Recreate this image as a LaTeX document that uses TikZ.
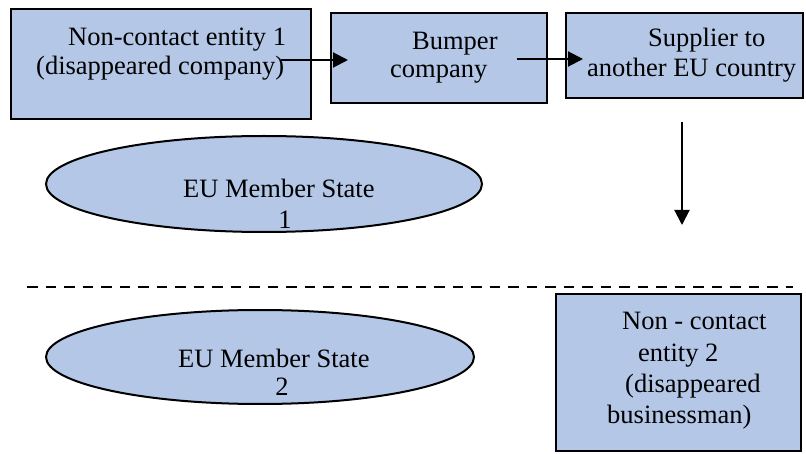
\documentclass[tikz,border=0pt]{standalone}
\usepackage{fontspec}
\setmainfont{Liberation Serif}
\usetikzlibrary{shapes.geometric,arrows.meta}
\definecolor{paleblue}{HTML}{B4C7E7}
\tikzset{
  box/.style={draw=black, line width=2.6pt, fill=paleblue, rectangle, inner sep=0pt},
  state/.style={draw=black, line width=2pt, fill=paleblue, ellipse, inner sep=0pt},
  txt/.style={anchor=base west, inner sep=0pt, font=\fontsize{26.5}{30}\selectfont},
  ctxt/.style={anchor=base, inner sep=0pt, font=\fontsize{26.5}{30}\selectfont},
  flow/.style={line width=2pt, -{Triangle[length=15pt,width=15pt]}},
}
\begin{document}
\begin{tikzpicture}[x=1pt,y=-1pt]
\useasboundingbox (0,0) rectangle (806,454);

% boxes
\node[box, minimum width=300pt, minimum height=110pt] (ent1) at (161,64) {};
\node[box, minimum width=216pt, minimum height=90pt] (bump) at (439,58) {};
\node[box, minimum width=237pt, minimum height=85pt] (supp) at (684.5,55.5) {};
\node[box, minimum width=245pt, minimum height=157pt] (ent2) at (678.5,372.5) {};

% member states
\node[state, minimum width=436pt, minimum height=96pt] (ms1) at (264,184) {};
\node[state, minimum width=428pt, minimum height=94pt] (ms2) at (260,357) {};

% texts
\node[txt] (ent1a) at (68,46) {Non-contact entity 1};
\node[txt] (ent1b) at (36,75) {(disappeared company)};
\node[txt] (bumpa) at (412,50) {Bumper};
\node[txt] (bumpb) at (390,78) {company};
\node[txt] (suppa) at (648,47) {Supplier to};
\node[txt] (suppb) at (587,77) {another EU country};
\node[txt] (ms1a) at (183,198) {EU Member State};
\node[ctxt] (ms1b) at (285,229) {1};
\node[txt] (ms2a) at (178,367) {EU Member State};
\node[ctxt] (ms2b) at (282,395) {2};
\node[txt] (ent2a) at (622,330) {Non - contact};
\node[txt] (ent2b) at (638,361) {entity 2};
\node[txt] (ent2c) at (625,392) {(disappeared};
\node[txt] (ent2d) at (607,423) {businessman)};

% connector ends
\coordinate (f1s) at (281,60);
\coordinate (f1e) at (348,60);
\coordinate (f2s) at (517,59);
\coordinate (f2e) at (583,59);
\coordinate (f3s) at (682,122);
\coordinate (f3e) at (682,225);
\coordinate (bordl) at (27,287);
\coordinate (bordr) at (793,287);

% flows
\draw[flow] (f1s) -- (f1e);
\draw[flow] (f2s) -- (f2e);
\draw[flow] (f3s) -- (f3e);

% border between the two states
\draw[line width=2.6pt, dash pattern=on 10.5pt off 8pt] (bordl) -- (bordr);
\end{tikzpicture}
\end{document}
